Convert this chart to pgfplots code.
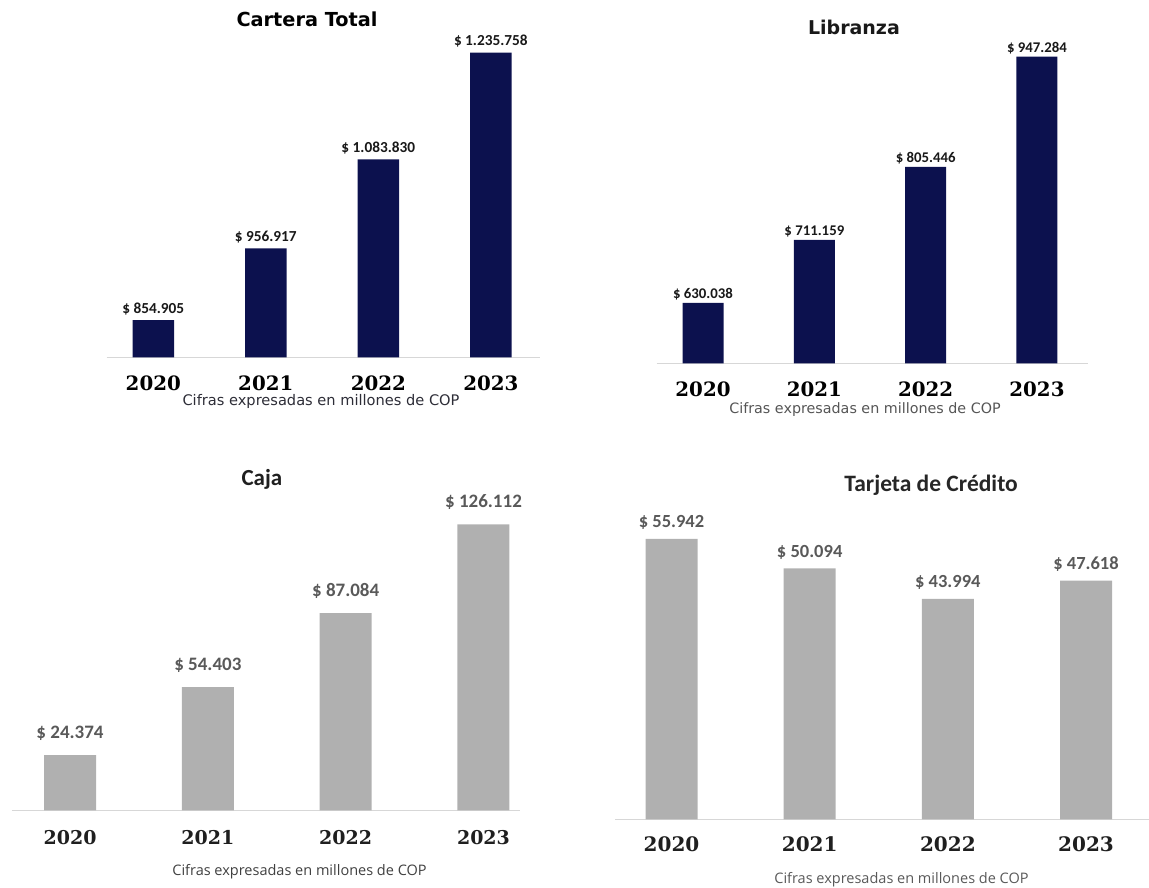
\documentclass[border=0pt]{standalone}
\usepackage{fontspec}
\usepackage{pgfplots}
\pgfplotsset{compat=1.18}
\newfontfamily\dvs{DejaVu Sans}
\newfontfamily\dvserif{DejaVu Serif}
\newfontfamily\carlito{Carlito}
\newfontfamily\osans{Open Sans}
\definecolor{navy}{RGB}{12,17,78}
\definecolor{bargray}{RGB}{176,176,176}
\definecolor{axgray}{RGB}{215,215,215}
\definecolor{labgray}{RGB}{89,89,89}
\definecolor{subdark}{RGB}{45,45,55}
\definecolor{submid}{RGB}{85,85,85}
\definecolor{subgray}{RGB}{64,64,64}
\pgfplotsset{
  mybase/.style={
    scale only axis,
    anchor=south west,
    axis x line*=bottom,
    axis y line=none,
    x axis line style={draw=axgray, line width=1pt, -},
    xtick={0,1,2,3},
    xticklabels={2020,2021,2022,2023},
    major tick length=0pt,
    clip mode=individual,
    every axis title shift=0pt,
    ybar,
  },
}
\begin{document}
\begin{tikzpicture}
\path[use as bounding box] (0pt,0pt) rectangle (1149pt,888pt);

% ---------------- Cartera Total ----------------
\begin{axis}[mybase,
  at={(106.7pt,530.5pt)},
  width=433.3pt, height=304.8pt,
  xmin=-0.414, xmax=3.437,
  ymin=801500, ymax=1235758,
  xticklabel style={anchor=base, yshift=-33.5pt, font=\dvserif\bfseries\fontsize{19.8}{20}\selectfont, text=black},
  title={Cartera Total},
  title style={at={(axis description cs:0.4623,1.0853)}, anchor=base, yshift=0pt, font=\dvs\bfseries\fontsize{19.3}{20}\selectfont, text=black},
  xlabel={Cifras expresadas en millones de COP},
  xlabel style={at={(axis description cs:0.4946,-0.159)}, anchor=base, font=\dvs\fontsize{14.6}{15}\selectfont, text=subdark},
]
\addplot[ybar, bar width=41.5pt, fill=navy, draw=none,
  nodes near coords, point meta=explicit symbolic,
  every node near coord/.style={anchor=base, yshift=6.7pt, inner sep=0pt, font=\carlito\bfseries\fontsize{15.3}{15}\selectfont, text=black!90}]
coordinates {(0,854905)[\$ 854.905] (1,956917)[\$ 956.917] (2,1083830)[\$ 1.083.830] (3,1235758)[\$ 1.235.758]};
\end{axis}

% ---------------- Libranza ----------------
\begin{axis}[mybase,
  at={(656.7pt,524.7pt)},
  width=431.6pt, height=306.6pt,
  xmin=-0.416, xmax=3.461,
  ymin=552300, ymax=947284,
  xticklabel style={anchor=base, yshift=-33.4pt, font=\dvserif\bfseries\fontsize{19.8}{20}\selectfont, text=black},
  title={Libranza},
  title style={at={(axis description cs:0.457,1.0708)}, anchor=base, yshift=0pt, font=\dvs\bfseries\fontsize{19}{20}\selectfont, text=black!90},
  xlabel={Cifras expresadas en millones de COP},
  xlabel style={at={(axis description cs:0.4826,-0.163)}, anchor=base, font=\dvs\fontsize{14.3}{15}\selectfont, text=submid},
]
\addplot[ybar, bar width=41pt, fill=navy, draw=none,
  nodes near coords, point meta=explicit symbolic,
  every node near coord/.style={anchor=base, yshift=4.4pt, inner sep=0pt, font=\carlito\bfseries\fontsize{14.8}{15}\selectfont, text=black!90}]
coordinates {(0,630038)[\$ 630.038] (1,711159)[\$ 711.159] (2,805446)[\$ 805.446] (3,947284)[\$ 947.284]};
\end{axis}

% ---------------- Caja ----------------
\begin{axis}[mybase,
  at={(12pt,77.5pt)},
  width=508pt, height=286pt,
  xmin=-0.421, xmax=3.265,
  ymin=0, ymax=126112,
  xticklabel style={anchor=base, yshift=-34pt, font=\dvserif\bfseries\fontsize{19}{19}\selectfont, text=black!88},
  title={Caja},
  title style={at={(axis description cs:0.492,1.138)}, anchor=base, yshift=0pt, font=\carlito\bfseries\fontsize{23}{24}\selectfont, text=black!88},
  xlabel={Cifras expresadas en millones de COP},
  xlabel style={at={(axis description cs:0.566,-0.229)}, anchor=base, font=\osans\fontsize{14.5}{15}\selectfont, text=subgray},
]
\addplot[ybar, bar width=52pt, fill=bargray, draw=none,
  nodes near coords, point meta=explicit symbolic,
  every node near coord/.style={anchor=base, yshift=16.5pt, inner sep=0pt, font=\carlito\bfseries\fontsize{19}{19}\selectfont, text=labgray}]
coordinates {(0,24374)[\$ 24.374] (1,54403)[\$ 54.403] (2,87084)[\$ 87.084] (3,126112)[\$ 126.112]};
\end{axis}

% ---------------- Tarjeta de Credito ----------------
\begin{axis}[mybase,
  at={(615pt,68.7pt)},
  width=534pt, height=280.3pt,
  xmin=-0.409, xmax=3.456,
  ymin=0, ymax=55942,
  xticklabel style={anchor=base, yshift=-32.5pt, font=\dvserif\bfseries\fontsize{20}{20}\selectfont, text=black!88},
  title={Tarjeta de Crédito},
  title style={at={(axis description cs:0.592,1.1687)}, anchor=base, yshift=0pt, font=\carlito\bfseries\fontsize{23.5}{24}\selectfont, text=black!85},
  xlabel={Cifras expresadas en millones de COP},
  xlabel style={at={(axis description cs:0.5365,-0.2273)}, anchor=base, font=\osans\fontsize{14.5}{15}\selectfont, text=labgray},
]
\addplot[ybar, bar width=52pt, fill=bargray, draw=none,
  nodes near coords, point meta=explicit symbolic,
  every node near coord/.style={anchor=base, yshift=11pt, inner sep=0pt, font=\carlito\bfseries\fontsize{18.5}{19}\selectfont, text=labgray}]
coordinates {(0,55942)[\$ 55.942] (1,50094)[\$ 50.094] (2,43994)[\$ 43.994] (3,47618)[\$ 47.618]};
\end{axis}
\end{tikzpicture}
\end{document}
